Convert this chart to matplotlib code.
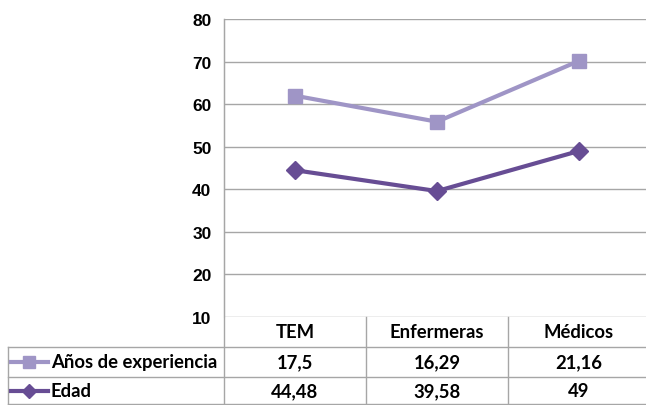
import matplotlib
matplotlib.use("Agg")
import matplotlib.pyplot as plt
import matplotlib.transforms as mtransforms
from matplotlib.lines import Line2D

categories = ["TEM", "Enfermeras", "Médicos"]
series_names = ["Años de experiencia", "Edad"]
edad = [44.48, 39.58, 49]
anos = [17.5, 16.29, 21.16]
edad_labels = ["44,48", "39,58", "49"]
anos_labels = ["17,5", "16,29", "21,16"]
yticks = [10, 20, 30, 40, 50, 60, 70, 80]

plt.rcParams['font.family'] = ['Lato', 'DejaVu Sans']

W, H = 646, 406
fig = plt.figure(figsize=(W / 100, H / 100), dpi=100)
left, right, top, bottom = 224, 650, 20, 318
ax = fig.add_axes([left / W, 1 - bottom / H, (right - left) / W, (bottom - top) / H])

c_light = "#9f95c6"
c_dark = "#674d94"
grid_c = "#a6a6a6"

x = list(range(len(categories)))
stacked = [e + a for e, a in zip(edad, anos)]
ax.plot(x, stacked, color=c_light, lw=3, marker="s", ms=10.5, zorder=3, clip_on=False)
ax.plot(x, edad, color=c_dark, lw=3, marker="D", ms=9.5, zorder=3, clip_on=False)

ax.set_xlim(-0.5, 2.5)
ax.set_ylim(10, 80)
ax.set_yticks(yticks)
ax.set_yticklabels([str(t) for t in yticks], fontsize=12.5, fontweight="bold",
                   family=["Liberation Sans", "DejaVu Sans"])
ax.set_xticks([])
ax.tick_params(axis="y", length=0, pad=9)
for t in yticks:
    ax.axhline(t, color=grid_c, lw=1, zorder=1)
for s in ["top", "right", "bottom"]:
    ax.spines[s].set_visible(False)
ax.spines["left"].set_color(grid_c)

def fx(px):
    return px / W
def fy(py):
    return 1 - py / H

def hline(y, x0, x1):
    fig.add_artist(Line2D([fx(x0), fx(x1)], [fy(y), fy(y)], color=grid_c, lw=1))
def vline(xp, y0, y1):
    fig.add_artist(Line2D([fx(xp), fx(xp)], [fy(y0), fy(y1)], color=grid_c, lw=1))

hline(348, 8, 650)
hline(378, 8, 650)
hline(405, 8, 650)
vline(8, 348, 405)
vline(224, 20, 405)
vline(366, 318, 405)
vline(508, 318, 405)

trans = mtransforms.blended_transform_factory(ax.transData, fig.transFigure)
fs = 13.3
for i, cat in enumerate(categories):
    fig.text(x[i], fy(333), cat, transform=trans, ha="center", va="center",
             fontsize=fs, fontweight="bold")
    fig.text(x[i], fy(363), anos_labels[i], transform=trans, ha="center", va="center",
             fontsize=fs, fontweight="bold")
    fig.text(x[i], fy(392), edad_labels[i], transform=trans, ha="center", va="center",
             fontsize=fs, fontweight="bold")

for yy, col, mk, ms, name in [(363, c_light, "s", 8, series_names[0]), (392, c_dark, "D", 7.5, series_names[1])]:
    fig.add_artist(Line2D([fx(11), fx(48)], [fy(yy), fy(yy)], color=col, lw=3))
    fig.add_artist(Line2D([fx(29)], [fy(yy)], color=col, marker=mk, ms=ms, lw=0))
    fig.text(fx(51), fy(yy), name, ha="left", va="center", fontsize=fs, fontweight="bold")

fig.savefig("out.png", dpi=100)
